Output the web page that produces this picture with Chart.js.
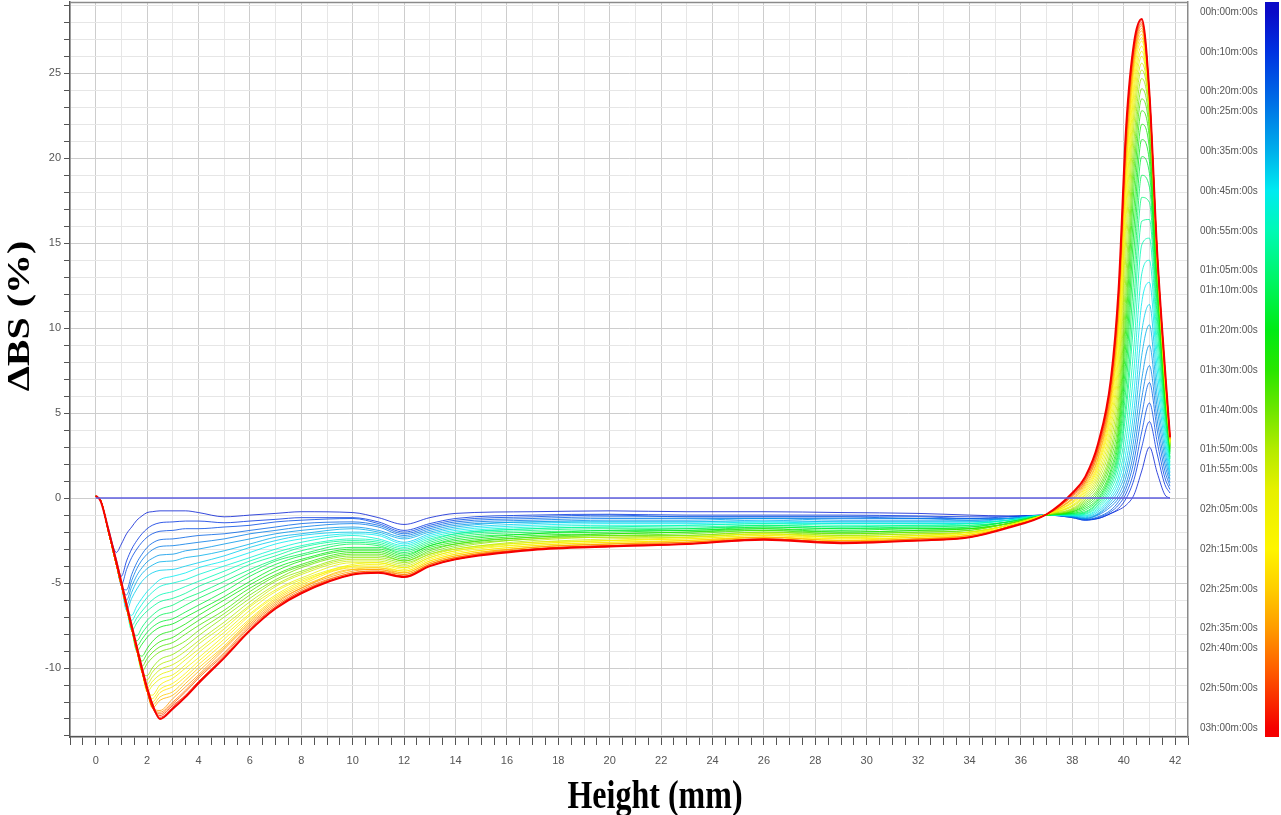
<!DOCTYPE html>
<html>
<head>
<meta charset="utf-8">
<script src="https://cdn.jsdelivr.net/npm/chart.js@4.4.1/dist/chart.umd.min.js"></script>
<style>
  html, body { margin: 0; padding: 0; background: #fff; }
  canvas { display: block; }
</style>
</head>
<body>
<canvas id="turbiChart" width="1281" height="815"></canvas>
<script>
// sample heights (mm) shared by every scan
const heights = [0, 0.2, 0.5, 0.8, 1.0, 1.2, 1.4, 1.6, 1.8, 2.0, 2.2, 2.5, 3, 3.5, 4, 5, 6, 7, 8, 10, 11, 12, 13, 14, 17, 20, 23, 26, 29, 32, 34, 35.5, 37, 38, 38.5, 39, 39.5, 39.8, 40.1, 40.4, 40.7, 41.0, 41.3, 41.6, 41.8];

// delta BS (%) for each scan
const t000 = [0,0,0,0,0,0,0,0,0,0,0,0, 0,0,0,0,0,0,0, 0,0,0,0,0, 0,0,0,0,0,0,0,0,0, 0,0,0,0,0,0,0,0,0,0,0,0];
const t005 = [0.1,-0.2,-1.8,-3.2,-2.7,-2.1,-1.7,-1.3,-1.05,-0.85,-0.8,-0.75, -0.75,-0.75,-0.85,-1.1,-1.0,-0.9,-0.8, -0.85,-1.15,-1.55,-1.15,-0.9, -0.8,-0.75,-0.8,-0.8,-0.85,-0.9,-1.0,-1.05,-1.0, -1.1,-1.25,-1.2,-0.9,-0.7,-0.4,0.2,1.6,3.0,1.5,0.2,0.0];
const t010 = [0.1,-0.15,-1.9,-3.6,-4.6,-3.7,-3.0,-2.5,-2.1,-1.8,-1.6,-1.45, -1.4,-1.35,-1.35,-1.45,-1.35,-1.25,-1.15, -1.15,-1.4,-1.9,-1.5,-1.2, -1.0,-0.95,-1.0,-1.0,-1.0,-1.05,-1.1,-1.1,-1.0, -1.15,-1.3,-1.2,-0.9,-0.6,0.0,1.1,3.0,4.5,2.6,0.8,0.3];
const t015 = [0.1,-0.15,-1.95,-3.8,-5.1,-4.2,-3.5,-3.0,-2.6,-2.3,-2.1,-1.95, -1.9,-1.8,-1.8,-1.7,-1.6,-1.4,-1.3, -1.2,-1.5,-2.0,-1.6,-1.3, -1.1,-1.0,-1.1,-1.1,-1.1,-1.1,-1.2,-1.1,-1.0, -1.15,-1.3,-1.15,-0.8,-0.4,0.3,1.6,3.9,5.6,3.3,1.2,0.5];
const t020 = [0.1,-0.15,-2.0,-3.9,-5.15,-5.4,-4.5,-3.8,-3.3,-2.9,-2.65,-2.45, -2.4,-2.3,-2.2,-2.1,-1.9,-1.7,-1.5, -1.4,-1.6,-2.1,-1.7,-1.4, -1.2,-1.1,-1.1,-1.1,-1.1,-1.2,-1.2,-1.2,-1.0, -1.1,-1.25,-1.1,-0.7,-0.2,0.6,2.2,4.9,6.8,4.0,1.6,0.7];
const t025 = [0.1,-0.15,-2.0,-3.9,-5.15,-5.7,-4.85,-4.15,-3.65,-3.3,-3.05,-2.85, -2.8,-2.7,-2.6,-2.4,-2.1,-1.9,-1.7, -1.5,-1.7,-2.2,-1.8,-1.5, -1.3,-1.2,-1.2,-1.2,-1.2,-1.2,-1.3,-1.2,-1.0, -1.1,-1.2,-1.0,-0.5,0.0,0.9,2.8,5.9,7.8,4.6,2.0,0.9];
const t030 = [0.1,-0.15,-2.0,-3.9,-5.15,-6.0,-5.2,-4.55,-4.1,-3.75,-3.55,-3.35, -3.3,-3.1,-3.0,-2.7,-2.4,-2.1,-1.9, -1.7,-1.9,-2.3,-1.9,-1.6, -1.4,-1.3,-1.3,-1.2,-1.3,-1.3,-1.3,-1.2,-1.0, -1.1,-1.2,-0.95,-0.35,0.2,1.3,3.5,7.0,9.0,5.3,2.4,1.1];
const t035 = [0.1,-0.15,-2.0,-3.9,-5.15,-6.3,-5.55,-4.9,-4.45,-4.15,-3.95,-3.75, -3.7,-3.5,-3.4,-3.1,-2.7,-2.3,-2.1, -1.8,-2.0,-2.4,-2.0,-1.7, -1.4,-1.4,-1.4,-1.3,-1.4,-1.4,-1.4,-1.2,-1.0, -1.05,-1.15,-0.9,-0.2,0.45,1.7,4.3,8.4,10.2,6.0,2.8,1.3];
const t040 = [0.1,-0.15,-2.0,-3.9,-5.15,-6.6,-5.9,-5.35,-4.9,-4.6,-4.4,-4.25, -4.2,-4.0,-3.8,-3.4,-2.9,-2.5,-2.2, -2.0,-2.1,-2.6,-2.1,-1.8, -1.5,-1.4,-1.4,-1.4,-1.4,-1.4,-1.4,-1.3,-1.0, -1.05,-1.1,-0.8,-0.05,0.7,2.2,5.2,9.8,11.4,6.8,3.2,1.5];
const t045 = [0.1,-0.15,-2.0,-3.9,-5.15,-6.45,-6.9,-6.35,-5.9,-5.5,-5.2,-4.8, -4.6,-4.4,-4.1,-3.7,-3.2,-2.7,-2.4, -2.1,-2.2,-2.7,-2.2,-1.9, -1.6,-1.5,-1.5,-1.4,-1.5,-1.5,-1.5,-1.3,-1.0, -1.0,-1.05,-0.7,0.1,1.0,2.8,6.3,11.5,12.7,7.6,3.6,1.7];
const t050 = [0.1,-0.15,-2.0,-3.9,-5.15,-6.45,-7.2,-6.7,-6.25,-5.85,-5.55,-5.2, -5.0,-4.8,-4.5,-4.0,-3.5,-3.0,-2.6, -2.2,-2.4,-2.8,-2.3,-2.0, -1.7,-1.6,-1.6,-1.5,-1.5,-1.5,-1.5,-1.3,-1.0, -1.0,-1.0,-0.6,0.3,1.3,3.5,7.6,13.2,14.0,8.4,4.0,1.9];
const t055 = [0.1,-0.15,-2.0,-3.9,-5.15,-6.45,-7.5,-7.05,-6.65,-6.3,-6.0,-5.7, -5.5,-5.2,-4.9,-4.3,-3.7,-3.2,-2.8, -2.4,-2.5,-2.9,-2.4,-2.1, -1.8,-1.7,-1.6,-1.5,-1.6,-1.6,-1.5,-1.3,-1.0, -1.0,-0.95,-0.5,0.5,1.7,4.3,9.0,14.9,15.3,9.2,4.4,2.1];
const t060 = [0.1,-0.15,-2.0,-3.9,-5.15,-6.45,-7.8,-7.35,-6.95,-6.65,-6.4,-6.1, -5.9,-5.6,-5.2,-4.6,-3.9,-3.4,-2.9, -2.5,-2.6,-3.0,-2.5,-2.1, -1.8,-1.7,-1.7,-1.6,-1.7,-1.6,-1.6,-1.4,-1.0, -0.95,-0.9,-0.4,0.7,2.1,5.2,10.6,16.3,16.4,10.0,4.8,2.3];
const t065 = [0.1,-0.15,-2.0,-3.9,-5.15,-6.45,-7.7,-8.1,-7.6,-7.2,-6.9,-6.55, -6.3,-5.9,-5.6,-4.9,-4.2,-3.6,-3.1, -2.6,-2.7,-3.1,-2.6,-2.2, -1.9,-1.8,-1.8,-1.6,-1.7,-1.7,-1.6,-1.4,-1.0, -0.95,-0.85,-0.3,0.9,2.4,5.8,11.8,17.7,17.4,10.7,5.1,2.4];
const t070 = [0.1,-0.15,-2.0,-3.9,-5.15,-6.45,-7.7,-8.4,-7.95,-7.55,-7.25,-6.9, -6.7,-6.3,-5.9,-5.2,-4.4,-3.7,-3.3, -2.7,-2.8,-3.2,-2.7,-2.3, -2.0,-1.9,-1.8,-1.7,-1.8,-1.7,-1.7,-1.4,-1.0, -0.9,-0.8,-0.2,1.1,2.7,6.7,13.2,19.0,18.3,11.3,5.4,2.6];
const t075 = [0.1,-0.15,-2.0,-3.9,-5.15,-6.45,-7.7,-8.7,-8.3,-7.9,-7.6,-7.3, -7.1,-6.7,-6.3,-5.5,-4.6,-3.9,-3.4, -2.9,-2.9,-3.3,-2.8,-2.4, -2.1,-1.9,-1.9,-1.7,-1.8,-1.8,-1.7,-1.4,-1.0, -0.9,-0.7,-0.1,1.3,3.0,7.6,14.6,20.1,19.1,11.9,5.7,2.7];
const t080 = [0.1,-0.15,-2.0,-3.9,-5.15,-6.45,-7.7,-9.0,-8.6,-8.2,-7.9,-7.6, -7.4,-7.0,-6.6,-5.8,-4.9,-4.1,-3.6, -3.0,-3.0,-3.4,-2.8,-2.5, -2.1,-2.0,-1.9,-1.8,-1.9,-1.8,-1.8,-1.5,-1.0, -0.85,-0.6,0.0,1.5,3.4,8.5,15.9,21.1,19.8,12.4,5.9,2.8];
const t085 = [0.1,-0.15,-2.0,-3.9,-5.15,-6.45,-7.7,-8.95,-9.3,-8.85,-8.45,-8.05, -7.8,-7.4,-6.9,-6.0,-5.1,-4.3,-3.7, -3.1,-3.1,-3.5,-2.9,-2.6, -2.2,-2.1,-2.0,-1.8,-2.0,-1.9,-1.8,-1.5,-1.0, -0.8,-0.5,0.15,1.7,3.8,9.5,17.1,22.0,20.5,12.8,6.1,2.9];
const t090 = [0.1,-0.15,-2.0,-3.9,-5.15,-6.45,-7.7,-8.95,-9.6,-9.15,-8.8,-8.45, -8.2,-7.7,-7.2,-6.3,-5.3,-4.5,-3.9, -3.2,-3.2,-3.6,-3.0,-2.7, -2.3,-2.1,-2.0,-1.9,-2.0,-1.9,-1.8,-1.5,-1.0, -0.8,-0.4,0.3,2.0,4.2,10.5,18.3,22.8,21.1,13.1,6.3,3.0];
const t095 = [0.1,-0.15,-2.0,-3.9,-5.15,-6.45,-7.7,-8.95,-9.9,-9.45,-9.1,-8.75, -8.5,-8.0,-7.5,-6.6,-5.5,-4.6,-4.0, -3.3,-3.3,-3.7,-3.1,-2.7, -2.3,-2.2,-2.1,-1.9,-2.1,-2.0,-1.9,-1.5,-1.0, -0.75,-0.3,0.45,2.3,4.7,11.4,19.3,23.5,21.6,13.4,6.5,3.05];
const t100 = [0.1,-0.15,-2.0,-3.9,-5.15,-6.45,-7.7,-8.95,-10.2,-9.75,-9.4,-9.05, -8.8,-8.4,-7.8,-6.8,-5.7,-4.8,-4.1, -3.4,-3.4,-3.7,-3.2,-2.8, -2.4,-2.2,-2.2,-2.0,-2.1,-2.0,-1.9,-1.5,-1.0, -0.7,-0.2,0.6,2.6,5.3,12.4,20.2,24.1,22.0,13.6,6.6,3.1];
const t105 = [0.1,-0.15,-2.0,-3.9,-5.15,-6.45,-7.7,-8.95,-10.2,-10.45,-10.0,-9.5, -9.2,-8.7,-8.1,-7.0,-5.9,-4.9,-4.3, -3.5,-3.5,-3.8,-3.3,-2.9, -2.4,-2.3,-2.2,-2.0,-2.2,-2.1,-2.0,-1.6,-0.95, -0.65,-0.1,0.8,2.9,5.9,13.5,21.1,24.7,22.4,13.8,6.7,3.15];
const t110 = [0.1,-0.15,-2.0,-3.9,-5.15,-6.45,-7.7,-8.95,-10.2,-10.7,-10.25,-9.8, -9.5,-9.0,-8.4,-7.3,-6.1,-5.1,-4.4, -3.6,-3.6,-3.9,-3.3,-3.0, -2.5,-2.3,-2.3,-2.1,-2.2,-2.1,-2.0,-1.6,-0.95, -0.6,0.0,1.0,3.3,6.6,14.7,22.0,25.2,22.7,13.9,6.8,3.2];
const t115 = [0.1,-0.15,-2.0,-3.9,-5.15,-6.45,-7.7,-8.95,-10.2,-10.95,-10.55,-10.1, -9.8,-9.3,-8.6,-7.5,-6.3,-5.2,-4.5, -3.7,-3.7,-4.0,-3.4,-3.0, -2.6,-2.4,-2.3,-2.1,-2.3,-2.2,-2.0,-1.6,-0.95, -0.5,0.1,1.2,3.7,7.3,15.8,22.7,25.6,22.9,14.0,6.9,3.25];
const t120 = [0.1,-0.15,-2.0,-3.9,-5.15,-6.45,-7.7,-8.95,-10.2,-11.2,-10.8,-10.4, -10.1,-9.5,-8.9,-7.7,-6.4,-5.4,-4.7, -3.8,-3.8,-4.1,-3.5,-3.1, -2.6,-2.5,-2.3,-2.1,-2.3,-2.2,-2.0,-1.6,-0.95, -0.45,0.2,1.4,4.1,8.0,16.7,23.3,26.0,23.1,14.1,7.0,3.3];
const t125 = [0.1,-0.15,-2.0,-3.9,-5.15,-6.45,-7.7,-8.95,-10.2,-11.4,-11.05,-10.65, -10.4,-9.8,-9.1,-7.9,-6.6,-5.5,-4.8, -3.9,-3.8,-4.1,-3.5,-3.1, -2.7,-2.5,-2.4,-2.2,-2.3,-2.2,-2.1,-1.6,-0.95, -0.4,0.3,1.6,4.5,8.6,17.5,23.9,26.3,23.2,14.2,7.1,3.3];
const t130 = [0.1,-0.15,-2.0,-3.9,-5.15,-6.45,-7.7,-8.95,-10.2,-11.35,-11.6,-11.0, -10.6,-10.0,-9.4,-8.1,-6.8,-5.7,-4.9, -4.0,-3.9,-4.2,-3.6,-3.2, -2.7,-2.5,-2.4,-2.2,-2.4,-2.3,-2.1,-1.6,-0.95, -0.3,0.4,1.8,4.9,9.2,18.2,24.4,26.6,23.3,14.2,7.2,3.35];
const t135 = [0.1,-0.15,-2.0,-3.9,-5.15,-6.45,-7.7,-8.95,-10.2,-11.35,-11.8,-11.25, -10.9,-10.3,-9.6,-8.3,-6.9,-5.8,-5.0, -4.0,-4.0,-4.3,-3.7,-3.3, -2.8,-2.6,-2.5,-2.3,-2.4,-2.3,-2.1,-1.7,-0.95, -0.25,0.5,1.95,5.2,9.8,18.9,24.9,26.9,23.4,14.3,7.3,3.4];
const t140 = [0.1,-0.15,-2.0,-3.9,-5.15,-6.45,-7.7,-8.95,-10.2,-11.35,-12.0,-11.45, -11.1,-10.5,-9.8,-8.5,-7.1,-5.9,-5.1, -4.1,-4.1,-4.3,-3.7,-3.3, -2.8,-2.6,-2.5,-2.3,-2.5,-2.3,-2.2,-1.7,-0.95, -0.2,0.6,2.1,5.5,10.2,19.4,25.3,27.1,23.5,14.3,7.35,3.4];
const t145 = [0.1,-0.15,-2.0,-3.9,-5.15,-6.45,-7.7,-8.95,-10.2,-11.35,-12.2,-11.7, -11.4,-10.7,-10.0,-8.7,-7.2,-6.0,-5.2, -4.2,-4.1,-4.4,-3.8,-3.4, -2.9,-2.7,-2.5,-2.3,-2.5,-2.4,-2.2,-1.7,-0.95, -0.1,0.7,2.3,5.8,10.6,19.9,25.6,27.3,23.5,14.35,7.4,3.45];
const t150 = [0.1,-0.15,-2.0,-3.9,-5.15,-6.45,-7.7,-8.95,-10.2,-11.35,-12.35,-11.9, -11.6,-10.9,-10.2,-8.8,-7.3,-6.1,-5.3, -4.2,-4.2,-4.4,-3.8,-3.4, -2.9,-2.7,-2.6,-2.3,-2.5,-2.4,-2.2,-1.7,-0.95, -0.05,0.8,2.4,6.0,10.9,20.3,25.8,27.5,23.6,14.4,7.45,3.45];
const t155 = [0.1,-0.15,-2.0,-3.9,-5.15,-6.45,-7.7,-8.95,-10.2,-11.35,-12.3,-12.5, -11.8,-11.1,-10.4,-8.9,-7.4,-6.2,-5.3, -4.3,-4.2,-4.5,-3.9,-3.5, -2.9,-2.7,-2.6,-2.4,-2.6,-2.4,-2.2,-1.7,-0.95, 0.0,0.9,2.6,6.2,11.2,20.7,26.0,27.65,23.6,14.4,7.5,3.5];
const t160 = [0.1,-0.15,-2.0,-3.9,-5.15,-6.45,-7.7,-8.95,-10.2,-11.35,-12.3,-12.6, -12.0,-11.3,-10.5,-9.1,-7.5,-6.3,-5.4, -4.4,-4.3,-4.5,-3.9,-3.5, -3.0,-2.8,-2.6,-2.4,-2.6,-2.4,-2.3,-1.7,-0.95, 0.1,0.95,2.7,6.4,11.5,21.0,26.2,27.8,23.7,14.45,7.55,3.5];
const t165 = [0.1,-0.15,-2.0,-3.9,-5.15,-6.45,-7.7,-8.95,-10.2,-11.35,-12.3,-12.7, -12.1,-11.4,-10.6,-9.2,-7.6,-6.4,-5.5, -4.4,-4.3,-4.6,-3.9,-3.5, -3.0,-2.8,-2.7,-2.4,-2.6,-2.5,-2.3,-1.7,-0.95, 0.15,1.05,2.85,6.6,11.7,21.3,26.4,27.9,23.7,14.45,7.6,3.55];
const t170 = [0.1,-0.15,-2.0,-3.9,-5.15,-6.45,-7.7,-8.95,-10.2,-11.35,-12.3,-12.8, -12.2,-11.6,-10.8,-9.3,-7.7,-6.4,-5.5, -4.5,-4.4,-4.6,-4.0,-3.6, -3.0,-2.8,-2.7,-2.4,-2.6,-2.5,-2.3,-1.7,-0.95, 0.2,1.1,2.95,6.75,11.9,21.5,26.5,28.0,23.75,14.5,7.6,3.55];
const t175 = [0.1,-0.15,-2.0,-3.9,-5.15,-6.45,-7.7,-8.95,-10.2,-11.35,-12.3,-12.9, -12.3,-11.6,-10.8,-9.4,-7.8,-6.5,-5.6, -4.5,-4.4,-4.6,-4.0,-3.6, -3.0,-2.8,-2.7,-2.4,-2.6,-2.5,-2.3,-1.7,-0.95, 0.25,1.2,3.1,6.9,12.1,21.8,26.7,28.1,23.8,14.5,7.65,3.6];
const t180 = [0.15,-0.2,-1.9,-3.7,-4.95,-6.25,-7.5,-8.75,-10.0,-11.15,-12.1,-13.0, -12.4,-11.7,-10.9,-9.4,-7.8,-6.5,-5.6, -4.5,-4.4,-4.65,-4.0,-3.6, -3.05,-2.85,-2.7,-2.45,-2.65,-2.5,-2.3,-1.75,-0.95, 0.3,1.25,3.2,7.0,12.3,22.0,26.8,28.2,23.8,14.5,7.7,3.6];

const scanMinutes = [0, 5, 10, 15, 20, 25, 30, 35, 40, 45, 50, 55, 60, 65, 70, 75, 80, 85, 90, 95, 100, 105, 110, 115, 120, 125, 130, 135, 140, 145, 150, 155, 160, 165, 170, 175, 180];
const scans = [t000, t005, t010, t015, t020, t025, t030, t035, t040, t045, t050, t055, t060, t065, t070, t075, t080, t085, t090, t095, t100, t105, t110, t115, t120, t125, t130, t135, t140, t145, t150, t155, t160, t165, t170, t175, t180];

// tick labels
const xTickLabels = [0, 2, 4, 6, 8, 10, 12, 14, 16, 18, 20, 22, 24, 26, 28, 30, 32, 34, 36, 38, 40, 42];
const yTickLabels = [-10, -5, 0, 5, 10, 15, 20, 25];
const timeTickMinutes = [0, 10, 20, 25, 35, 45, 55, 65, 70, 80, 90, 100, 110, 115, 125, 135, 145, 155, 160, 170, 180];

// colour scale (fraction of run -> rgb)
const colorStops = [
  [0.000, [10, 10, 200]], [0.056, [0, 50, 225]], [0.125, [0, 110, 230]], [0.194, [0, 175, 235]],
  [0.250, [0, 235, 240]], [0.306, [0, 250, 180]], [0.375, [0, 245, 100]], [0.444, [0, 235, 20]],
  [0.500, [40, 230, 0]], [0.556, [110, 230, 0]], [0.611, [180, 235, 0]], [0.667, [230, 240, 0]],
  [0.750, [255, 245, 0]], [0.806, [255, 205, 0]], [0.861, [255, 155, 0]], [0.917, [255, 95, 0]],
  [1.000, [245, 0, 0]]
];
const totalMinutes = 180;

function colorAt(f, alpha = 1) {
  for (let i = 1; i < colorStops.length; i++) {
    const [p1, c1] = colorStops[i];
    const [p0, c0] = colorStops[i - 1];
    if (f <= p1) {
      const u = (f - p0) / (p1 - p0);
      const c = c0.map((v, j) => Math.round(v + (c1[j] - v) * u));
      return `rgba(${c[0]},${c[1]},${c[2]},${alpha})`;
    }
  }
  return `rgba(245,0,0,${alpha})`;
}

function fmtTime(min) {
  const h = String(Math.floor(min / 60)).padStart(2, '0');
  const m = String(min % 60).padStart(2, '0');
  return `${h}h:${m}m:00s`;
}

const tickFont = { family: '"Liberation Sans", Arial, sans-serif', size: 11 };
const timeFont = { family: '"Liberation Sans", Arial, sans-serif', size: 10 };
const titleFont = 'bold 32px "Liberation Serif", "Times New Roman", serif';

// no extra room for half labels at the ends of the axes
function noEndPadding(s) {
  s.paddingTop = 0; s.paddingBottom = 0; s.paddingLeft = 0; s.paddingRight = 0;
}

// draws the colour bar next to the time labels
const colorBar = {
  id: 'colorBar',
  afterDraw(chart) {
    const { ctx, chartArea } = chart;
    const sc = chart.scales.yTime;
    const y0 = sc.getPixelForValue(0), y1 = sc.getPixelForValue(totalMinutes);
    const g = ctx.createLinearGradient(0, y0, 0, y1);
    colorStops.forEach(([p]) => g.addColorStop(p, colorAt(p)));
    ctx.save();
    ctx.fillStyle = g;
    ctx.fillRect(1265, chartArea.top, 14, chartArea.bottom - chartArea.top);
    ctx.restore();
  }
};

// top frame line + axis titles (figure is slightly stretched vertically)
const frameAndTitles = {
  id: 'frameAndTitles',
  beforeDatasetsDraw(chart) {
    const { ctx, chartArea } = chart;
    ctx.save();
    ctx.strokeStyle = '#8a8a8a';
    ctx.lineWidth = 1.5;
    ctx.beginPath();
    ctx.moveTo(chartArea.left, chartArea.top + 0.5);
    ctx.lineTo(chartArea.right, chartArea.top + 0.5);
    ctx.stroke();
    ctx.restore();
  },
  afterDraw(chart) {
    const { ctx } = chart;
    ctx.save();
    ctx.fillStyle = '#000';
    ctx.font = titleFont;
    ctx.textAlign = 'center';
    ctx.textBaseline = 'middle';
    ctx.save();
    ctx.translate(655, 798);
    ctx.scale(1, 1.25);
    ctx.fillText('Height (mm)', 0, 0);
    ctx.restore();
    ctx.save();
    ctx.translate(21, 316);
    ctx.scale(1, 1.25);
    ctx.rotate(-Math.PI / 2);
    ctx.fillText('ΔBS (%)', 0, 0);
    ctx.restore();
    ctx.restore();
  }
};

const datasets = scans.map((vals, i) => {
  const last = i === scans.length - 1;
  return {
    label: fmtTime(scanMinutes[i]),
    data: heights.map((h, j) => ({ x: h, y: vals[j] })),
    borderColor: i === 0 ? 'rgba(95,95,225,1)' : colorAt(scanMinutes[i] / totalMinutes, last ? 1 : 0.8),
    borderWidth: last ? 2 : (i === 0 ? 1.5 : 1),
    pointRadius: 0,
    fill: false,
    cubicInterpolationMode: 'monotone',
    order: i === 0 ? 0 : scans.length - i
  };
});

new Chart(document.getElementById('turbiChart'), {
  type: 'line',
  data: { datasets },
  plugins: [colorBar, frameAndTitles],
  options: {
    responsive: false,
    animation: false,
    devicePixelRatio: 1,
    layout: { padding: { top: 2, left: 0, right: 0, bottom: 0 }, autoPadding: false },
    plugins: { legend: { display: false }, tooltip: { enabled: false } },
    scales: {
      x: {
        type: 'linear', min: -1, max: 42.5,
        afterBuildTicks: s => {
          const t = [];
          for (let v = -1; v <= 42.5; v += 0.5) t.push({ value: v });
          s.ticks = t;
        },
        afterFit: s => { s.height = 78; noEndPadding(s); },
        ticks: {
          autoSkip: false, maxRotation: 0, padding: 9, color: '#555', font: tickFont,
          callback: v => xTickLabels.includes(v) ? String(v) : ''
        },
        grid: {
          color: c => Number.isInteger(c.tick.value) ? (c.tick.value % 2 === 0 ? '#cdcdcd' : '#e6e6e6') : 'rgba(0,0,0,0)',
          tickColor: '#555', tickLength: 8
        },
        border: { color: '#555', width: 1.5 }
      },
      y: {
        type: 'linear', min: -14.06, max: 29.2,
        afterBuildTicks: s => {
          const t = [];
          for (let v = -14; v <= 29; v++) t.push({ value: v });
          s.ticks = t;
        },
        afterFit: s => { s.width = 70; noEndPadding(s); },
        ticks: {
          autoSkip: false, padding: 3, color: '#555', font: tickFont,
          callback: v => yTickLabels.includes(v) ? String(v) : ''
        },
        grid: {
          color: c => c.tick.value % 5 === 0 ? '#cdcdcd' : '#e6e6e6',
          tickColor: '#555', tickLength: 6
        },
        border: { color: '#555', width: 1.5 }
      },
      yTime: {
        type: 'linear', axis: 'y', position: 'right', reverse: true,
        min: -2.51, max: 182.26,
        afterBuildTicks: s => { s.ticks = timeTickMinutes.map(v => ({ value: v })); },
        afterFit: s => { s.width = 93; noEndPadding(s); },
        ticks: { autoSkip: false, padding: 12, color: '#555', font: timeFont, callback: v => fmtTime(v) },
        grid: { display: false, drawTicks: false },
        border: { display: true, color: '#8a8a8a', width: 1.5 }
      }
    }
  }
});
</script>
</body>
</html>
